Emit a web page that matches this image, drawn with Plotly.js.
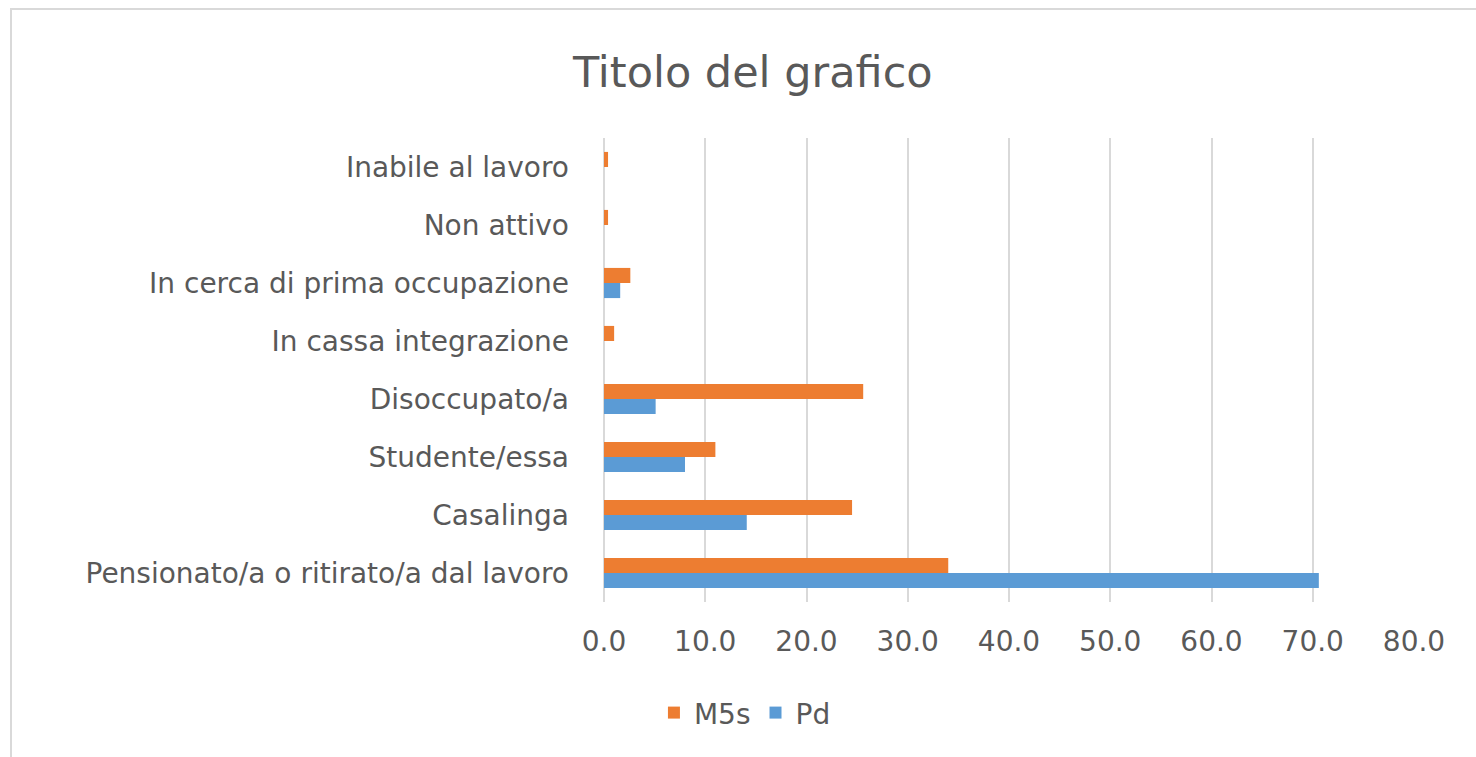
<!DOCTYPE html>
<html>
<head>
<meta charset="utf-8">
<script src="https://cdn.plot.ly/plotly-3.0.1.min.js"></script>
<style>
  html, body { margin: 0; padding: 0; background: #ffffff; }
  #chart { width: 1476px; height: 757px; }
</style>
</head>
<body>
<div id="chart"></div>
<script>
const categories = [
  'Pensionato/a o ritirato/a dal lavoro',
  'Casalinga',
  'Studente/essa',
  'Disoccupato/a',
  'In cassa integrazione',
  'In cerca di prima occupazione',
  'Non attivo',
  'Inabile al lavoro'
];
const m5sValues = [34.0, 24.5, 11.0, 25.6, 1.0, 2.6, 0.4, 0.4];
const pdValues = [70.6, 14.1, 8.0, 5.1, 0, 1.6, 0, 0];
const xTickValues = [0, 10, 20, 30, 40, 50, 60, 70, 80];

const FONT = 'DejaVu Sans, sans-serif';

const traces = [
  {
    type: 'bar', orientation: 'h', name: 'Pd',
    y: categories, x: pdValues,
    marker: { color: '#5B9BD5' },
    hoverinfo: 'x+name'
  },
  {
    type: 'bar', orientation: 'h', name: 'M5s',
    y: categories, x: m5sValues,
    marker: { color: '#ED7D31' },
    hoverinfo: 'x+name'
  }
];

const layout = {
  width: 1476, height: 757,
  paper_bgcolor: '#ffffff', plot_bgcolor: '#ffffff',
  font: { family: FONT, color: '#595959' },
  margin: { l: 604, r: 62, t: 138, b: 155 },
  barmode: 'group',
  bargap: 0.48,
  bargroupgap: 0,
  title: {
    text: 'Titolo del grafico',
    font: { size: 43, color: '#595959', family: FONT },
    xref: 'container', x: 0.51, xanchor: 'center',
    yref: 'container', y: 0.905, yanchor: 'middle'
  },
  xaxis: {
    range: [0, 80],
    tickvals: xTickValues,
    tickformat: '.1f',
    showgrid: true, gridcolor: '#d9d9d9', gridwidth: 2,
    zeroline: true, zerolinecolor: '#d9d9d9', zerolinewidth: 2,
    showline: false,
    ticks: '',
    ticklabelstandoff: 20,
    tickfont: { size: 28, color: '#595959', family: FONT },
    fixedrange: true
  },
  yaxis: {
    type: 'category',
    categoryorder: 'array', categoryarray: categories,
    showgrid: false, zeroline: false, showline: false,
    ticks: '',
    ticklabelstandoff: 34,
    tickfont: { size: 28, color: '#595959', family: FONT },
    fixedrange: true
  },
  showlegend: true,
  legend: {
    orientation: 'h',
    traceorder: 'reversed',
    x: 0.174, xanchor: 'center',
    y: -0.239, yanchor: 'middle',
    font: { size: 28, color: '#595959', family: FONT },
    itemwidth: 30
  },
  shapes: [
    {
      type: 'rect', xref: 'paper', yref: 'paper',
      x0: (11 - 604) / 810, x1: (1490 - 604) / 810,
      y0: (155 - 770) / 464, y1: 1 + (138 - 9) / 464,
      line: { color: '#d9d9d9', width: 2 },
      fillcolor: 'rgba(0,0,0,0)',
      layer: 'below'
    }
  ]
};

Plotly.newPlot('chart', traces, layout, { displayModeBar: false, staticPlot: true });
</script>
</body>
</html>
